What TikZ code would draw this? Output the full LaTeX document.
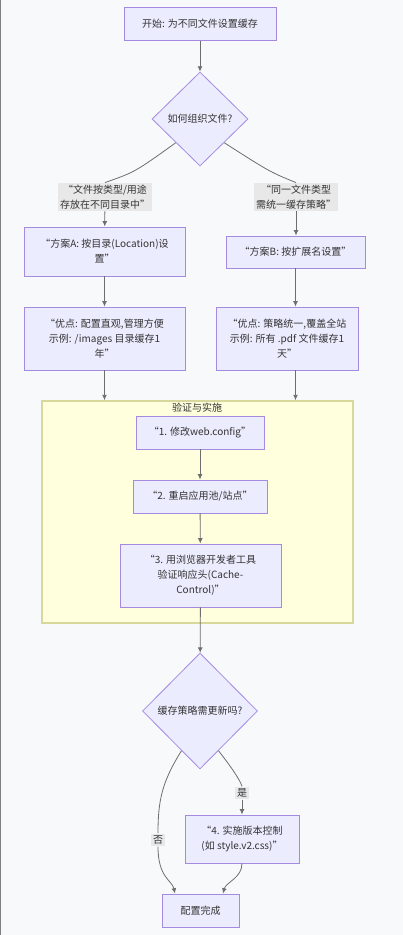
\documentclass[tikz,border=0pt]{standalone}
\usepackage{fontspec}
\setmainfont{Noto Sans CJK SC}
\usetikzlibrary{shapes.geometric, arrows.meta, positioning}

\definecolor{pagebg}{HTML}{F8F9FB}
\definecolor{boxfill}{HTML}{ECECFF}
\definecolor{boxline}{HTML}{A58BE0}
\definecolor{groupfill}{HTML}{FFFFDE}
\definecolor{groupline}{HTML}{D8D89C}
\definecolor{wire}{HTML}{6E6E6E}
\definecolor{tagfill}{HTML}{E8E8E8}
\definecolor{ink}{HTML}{333333}

\begin{document}
\begin{tikzpicture}[x=0.75pt, y=-0.75pt,
    every node/.style={text=ink, font=\fontsize{7.5}{11.25}\selectfont},
    proc/.style={rectangle, draw=boxline, fill=boxfill, line width=0.7pt,
      align=center, inner sep=0pt},
    choice/.style={diamond, draw=boxline, fill=boxfill, line width=0.6pt,
      align=center, inner sep=0pt},
    tag/.style={fill=tagfill, align=center, inner sep=1.5pt},
    wireline/.style={draw=wire, line width=0.6pt},
    flow/.style={wireline, -{Latex[length=4pt, width=3.6pt]}}]

  % page
  \useasboundingbox (0,0) rectangle (403,935);
  \fill[pagebg] (0,0) rectangle (403,935);
  \draw[gray, line width=1pt] (0.5,0) -- (0.5,935);

  % top part
  \node[proc, minimum width=114pt, minimum height=24.75pt] (start) at (200,24)
    {开始: 为不同文件设置缓存};
  \node[choice, minimum width=72pt, minimum height=70.5pt] (ask) at (200,119)
    {如何组织文件?};
  \node[tag] (byDir) at (105,197) {“文件按类型/用途\\存放在不同目录中”};
  \node[tag] (byExt) at (296,197) {“同一文件类型\\需统一缓存策略”};

  \node[proc, minimum width=120.75pt, minimum height=36.75pt] (planA) at (104.5,251.5)
    {“方案A: 按目录(Location)设\\置”};
  \node[proc, minimum width=104.25pt, minimum height=24pt] (planB) at (295.5,252)
    {“方案B: 按扩展名设置”};
  \node[proc, minimum width=120.75pt, minimum height=47.25pt] (prosA) at (104.5,338.5)
    {“优点: 配置直观,管理方便\\示例: /images 目录缓存1\\年”};
  \node[proc, minimum width=106.5pt, minimum height=47.25pt] (prosB) at (287,338.5)
    {“优点: 策略统一,覆盖全站\\示例: 所有 .pdf 文件缓存1\\天”};

  % group
  \node[rectangle, draw=groupline, fill=groupfill, line width=1.2pt,
    minimum width=233.25pt, minimum height=166.5pt, inner sep=0pt] (verify) at (197.5,512) {};
  \node (verifyTitle) at (197,408) {验证与实施};
  \node[proc, minimum width=96pt, minimum height=24.75pt] (edit) at (200,432.5)
    {“1. 修改web.config”};
  \node[proc, minimum width=100.5pt, minimum height=24.75pt] (restart) at (200,496.5)
    {“2. 重启应用池/站点”};
  \node[proc, minimum width=120.75pt, minimum height=47.25pt] (check) at (200.5,575.5)
    {“3. 用浏览器开发者工具\\验证响应头(Cache-\\Control)”};

  % bottom part
  \node[choice, minimum width=86.25pt, minimum height=87pt] (renew) at (200,711)
    {缓存策略需更新吗?};
  \node[proc, minimum width=85.5pt, minimum height=36pt] (version) at (242,839)
    {“4. 实施版本控制\\(如 style.v2.css)”};
  \node[proc, minimum width=57.75pt, minimum height=24.75pt] (done) at (200.5,910.5)
    {配置完成};
  \node[tag] (yes) at (242,793) {是};
  \node[tag] (no) at (158,840) {否};

  % connectors
  \draw[flow] (start) -- (ask);
  \draw[wireline] (ask.south west) .. controls (135,172) .. (byDir.north);
  \draw[flow] (byDir) -- (planA);
  \draw[wireline] (ask.south east) .. controls (270,172) .. (byExt.north);
  \draw[flow] (byExt) -- (byExt |- planB.north);
  \draw[flow] (planA) -- (prosA);
  \draw[flow] (planB.south) -- (planB.south |- prosB.north);
  \draw[flow] (prosA) -- (prosA.south |- verify.north);
  \draw[flow] (planB.south |- prosB.south) -- (planB.south |- verify.north);

  \draw[flow] (edit) -- (restart);
  \draw[flow] (restart) -- (check);
  \draw[flow] (check) -- (renew);

  \draw[wireline] (renew.-115) .. controls (162,782) and (158,800) .. (no.north);
  \draw[flow] (no.south) .. controls (158,878) and (172,880) .. (done.north -| 175,0);
  \draw[wireline] (renew.-65) .. controls (232,768) and (240,780) .. (yes.north);
  \draw[flow] (yes) -- (version);
  \draw[flow] (version.south) .. controls (242,878) and (226,882) .. (done.north -| 223,0);
\end{tikzpicture}
\end{document}
